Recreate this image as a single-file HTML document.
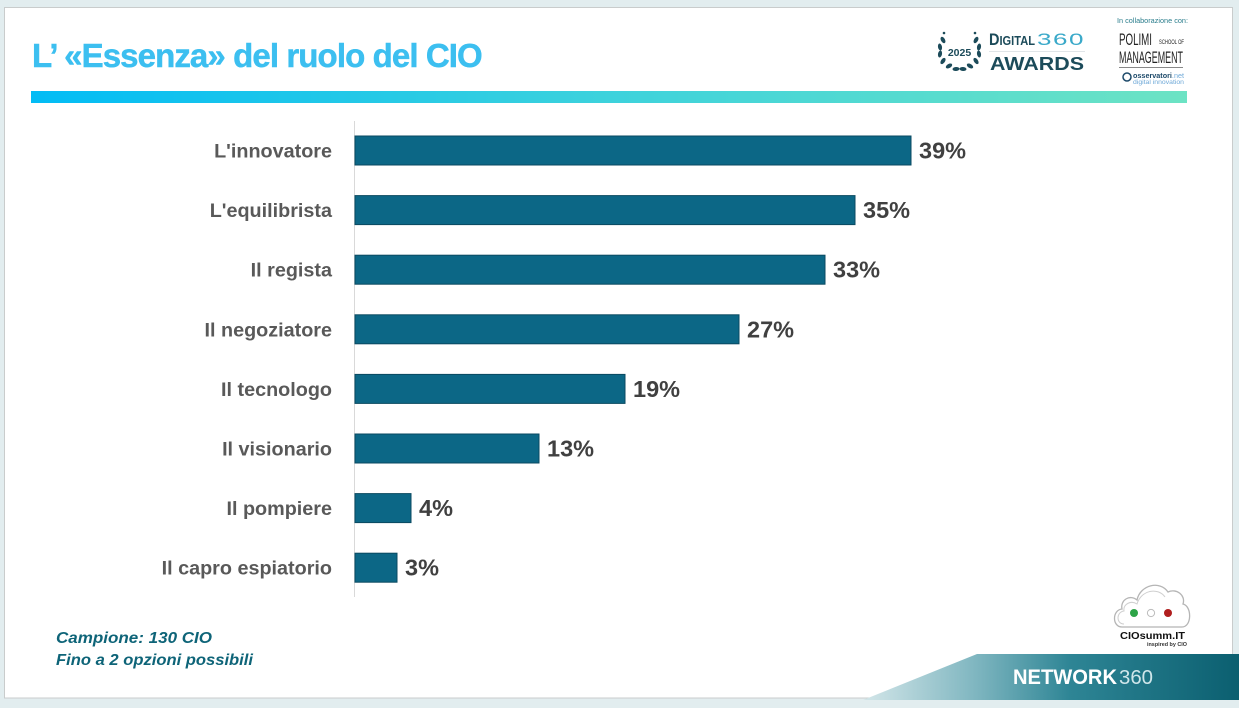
<!DOCTYPE html>
<html><head><meta charset="utf-8"><style>
html,body{margin:0;padding:0;background:#e2edef;}
svg{display:block;font-family:"Liberation Sans",sans-serif;}
</style></head><body>
<svg width="1239" height="708" viewBox="0 0 1239 708" xmlns="http://www.w3.org/2000/svg">
<defs>
<linearGradient id="g1" x1="0" x2="1" y1="0" y2="0">
<stop offset="0" stop-color="#02bcf5"/><stop offset="0.5" stop-color="#3dd2dc"/><stop offset="1" stop-color="#6ce3c4"/>
</linearGradient>
<linearGradient id="g2" x1="863" x2="1239" y1="0" y2="0" gradientUnits="userSpaceOnUse">
<stop offset="0" stop-color="#d3e6e9"/><stop offset="0.3" stop-color="#7fb6c0"/><stop offset="0.55" stop-color="#2e8595"/><stop offset="1" stop-color="#0b5f70"/>
</linearGradient>
</defs>
<rect x="0" y="0" width="1239" height="708" fill="#e2edef"/>
<rect x="4.5" y="7.5" width="1228" height="690.5" fill="#ffffff" stroke="#c9cccc" stroke-width="1"/>

<!-- Title -->
<text x="32" y="67" font-size="33" font-weight="bold" fill="#3cbff0" stroke="#3cbff0" stroke-width="0.5" letter-spacing="-0.9">L’ «Essenza» del ruolo del CIO</text>
<rect x="31" y="91" width="1156" height="12" fill="url(#g1)"/>

<!-- Digital360 Awards logo -->
<g fill="#1c4b5a">
<g>
<ellipse cx="943" cy="40" rx="2" ry="3.5" transform="rotate(-30 943 40)"/>
<ellipse cx="940" cy="47" rx="2" ry="3.5" transform="rotate(-10 940 47)"/>
<ellipse cx="940" cy="54" rx="2" ry="3.5" transform="rotate(10 940 54)"/>
<ellipse cx="943" cy="61" rx="2" ry="3.5" transform="rotate(35 943 61)"/>
<ellipse cx="949" cy="66" rx="2" ry="3.5" transform="rotate(60 949 66)"/>
<ellipse cx="956" cy="69" rx="2" ry="3.5" transform="rotate(85 956 69)"/>
<ellipse cx="976" cy="40" rx="2" ry="3.5" transform="rotate(30 976 40)"/>
<ellipse cx="979" cy="47" rx="2" ry="3.5" transform="rotate(10 979 47)"/>
<ellipse cx="979" cy="54" rx="2" ry="3.5" transform="rotate(-10 979 54)"/>
<ellipse cx="976" cy="61" rx="2" ry="3.5" transform="rotate(-35 976 61)"/>
<ellipse cx="970" cy="66" rx="2" ry="3.5" transform="rotate(-60 970 66)"/>
<ellipse cx="963" cy="69" rx="2" ry="3.5" transform="rotate(-85 963 69)"/>
<circle cx="944" cy="33" r="1.3"/><circle cx="975" cy="33" r="1.3"/>
</g>
<text x="959.5" y="56" font-size="10.5" font-weight="bold" text-anchor="middle">2025</text>
<text x="989" y="45" font-size="17" font-weight="bold" textLength="46" lengthAdjust="spacingAndGlyphs">D<tspan font-size="13">IGITAL</tspan></text>
<text x="990" y="70" font-size="18" font-weight="bold" textLength="94" lengthAdjust="spacingAndGlyphs">AWARDS</text>
</g>
<text x="1037" y="45" font-size="17" fill="#3aa9c9" font-weight="normal" textLength="48" lengthAdjust="spacingAndGlyphs" letter-spacing="1">360</text>
<line x1="989" y1="51.5" x2="1085" y2="51.5" stroke="#d6dde0" stroke-width="0.8"/>

<!-- Polimi logo -->
<text x="1117" y="23" font-size="7.5" fill="#2a7d8c" textLength="71" lengthAdjust="spacingAndGlyphs">In collaborazione con:</text>
<text x="1119" y="45" font-size="17" fill="#222" textLength="33" lengthAdjust="spacingAndGlyphs">POLIMI</text>
<text x="1159" y="44" font-size="6" fill="#222" textLength="25" lengthAdjust="spacingAndGlyphs">SCHOOL OF</text>
<text x="1119" y="63" font-size="17" fill="#222" textLength="64" lengthAdjust="spacingAndGlyphs">MANAGEMENT</text>
<line x1="1119" y1="67.5" x2="1183" y2="67.5" stroke="#888" stroke-width="1"/>
<circle cx="1127" cy="77" r="4" fill="none" stroke="#1d4a6a" stroke-width="1.5"/>
<text x="1133" y="78" font-size="7" fill="#1d4a6a" font-weight="bold" textLength="51" lengthAdjust="spacingAndGlyphs">osservatori<tspan fill="#6fa9d8" font-weight="normal">.net</tspan></text>
<text x="1133" y="84" font-size="6" fill="#6fa9d8" textLength="51" lengthAdjust="spacingAndGlyphs">digital innovation</text>

<!-- Axis -->
<line x1="354.5" y1="121" x2="354.5" y2="597" stroke="#d9d9d9" stroke-width="1"/>

<!-- Bars -->
<g fill="#0c6786" stroke="#0a4a61" stroke-width="1">
<rect x="355" y="136" width="556" height="29"/>
<rect x="355" y="195.6" width="500" height="29"/>
<rect x="355" y="255.2" width="470" height="29"/>
<rect x="355" y="314.8" width="384" height="29"/>
<rect x="355" y="374.4" width="270" height="29"/>
<rect x="355" y="434" width="184" height="29"/>
<rect x="355" y="493.6" width="56" height="29"/>
<rect x="355" y="553.2" width="42" height="29"/>
</g>

<!-- Category labels -->
<g font-size="19.8" font-weight="bold" fill="#595959" text-anchor="end">
<text x="332" y="157.5">L'innovatore</text>
<text x="332" y="217.1">L'equilibrista</text>
<text x="332" y="276.7">Il regista</text>
<text x="332" y="336.3">Il negoziatore</text>
<text x="332" y="395.9">Il tecnologo</text>
<text x="332" y="455.5">Il visionario</text>
<text x="332" y="515.1">Il pompiere</text>
<text x="332" y="574.7">Il capro espiatorio</text>
</g>

<!-- Values -->
<g font-size="23.5" font-weight="bold" fill="#404040">
<text x="919" y="158.5">39%</text>
<text x="863" y="218.1">35%</text>
<text x="833" y="277.7">33%</text>
<text x="747" y="337.3">27%</text>
<text x="633" y="396.9">19%</text>
<text x="547" y="456.5">13%</text>
<text x="419" y="516.1">4%</text>
<text x="405" y="575.7">3%</text>
</g>

<!-- Footnote -->
<g font-size="16" font-weight="bold" font-style="italic" fill="#0e6478">
<text x="56" y="643" textLength="156" lengthAdjust="spacingAndGlyphs">Campione: 130 CIO</text>
<text x="56" y="665" textLength="197" lengthAdjust="spacingAndGlyphs">Fino a 2 opzioni possibili</text>
</g>

<!-- CIOsumm.IT logo -->
<path d="M1122 627 C1112 627 1112 610 1122 609 C1120 600 1130 594 1137 600 C1140 585 1160 580 1168 592 C1176 588 1186 595 1183 604 C1192 606 1192 627 1182 627 Z" fill="none" stroke="#b5b5b5" stroke-width="1.3"/>
<path d="M1124 624 C1116 624 1116 612 1124 611 C1123 604 1131 600 1137 604 C1141 590 1158 587 1165 597" fill="none" stroke="#cfcfcf" stroke-width="1"/>
<circle cx="1134" cy="613" r="4" fill="#2da447"/>
<circle cx="1151" cy="613" r="3.6" fill="#fff" stroke="#bbb" stroke-width="1"/>
<circle cx="1168" cy="613" r="4" fill="#b01e1e"/>
<text x="1120" y="639" font-size="10.5" font-weight="bold" fill="#111" textLength="65" lengthAdjust="spacingAndGlyphs">CIOsumm.IT</text>
<text x="1147" y="646" font-size="5" font-weight="bold" fill="#333" textLength="40" lengthAdjust="spacingAndGlyphs">inspired by CIO</text>

<!-- Network360 banner -->
<polygon points="863,700 977,654 1239,654 1239,700" fill="url(#g2)"/>
<text x="1013" y="684" font-size="21" font-weight="bold" fill="#ffffff" textLength="104" lengthAdjust="spacingAndGlyphs">NETWORK</text>
<text x="1119" y="684" font-size="20" fill="#cfe6ea" textLength="34" lengthAdjust="spacingAndGlyphs">360</text>
</svg>
</body></html>
